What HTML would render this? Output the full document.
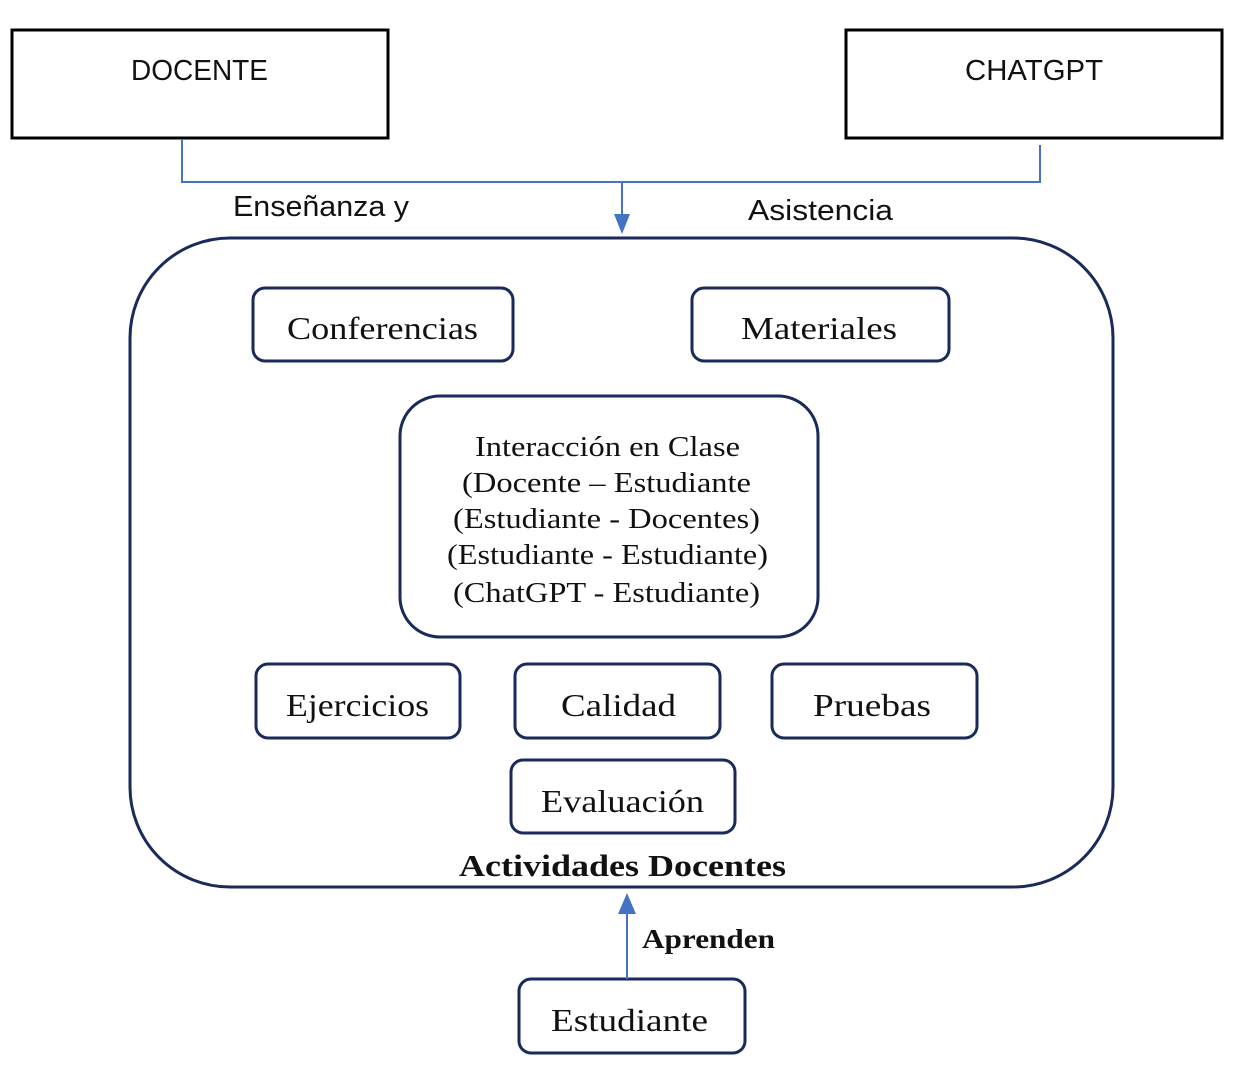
<!DOCTYPE html>
<html><head><meta charset="utf-8"><style>html,body{margin:0;padding:0;background:#fff}</style></head><body>
<svg width="1249" height="1061" viewBox="0 0 1249 1061" xmlns="http://www.w3.org/2000/svg">
<rect x="0" y="0" width="1249" height="1061" fill="#fff"/>
<rect x="12" y="30" width="376" height="108" fill="#fff" stroke="#000" stroke-width="3"/>
<rect x="846" y="30" width="376" height="108" fill="#fff" stroke="#000" stroke-width="3"/>
<g font-family="Liberation Sans, sans-serif" font-size="29" fill="#111" lengthAdjust="spacingAndGlyphs">
<text x="131" y="80" textLength="137" lengthAdjust="spacingAndGlyphs">DOCENTE</text>
<text x="965" y="80" textLength="138" lengthAdjust="spacingAndGlyphs">CHATGPT</text>
<text x="233" y="216" textLength="176" lengthAdjust="spacingAndGlyphs">Enseñanza y</text>
<text x="748" y="220" textLength="145" lengthAdjust="spacingAndGlyphs">Asistencia</text>
</g>
<polyline points="182,139 182,182 1040,182 1040,145" fill="none" stroke="#4472c4" stroke-width="2"/>
<line x1="622" y1="182" x2="622" y2="216" stroke="#4472c4" stroke-width="2"/>
<polygon points="614,214 630,214 622,234" fill="#4472c4"/>
<rect x="130" y="238" width="983" height="649" rx="100" fill="none" stroke="#1a2a5a" stroke-width="3"/>
<g fill="#fff" stroke="#1a2a5a" stroke-width="3">
<rect x="253" y="288" width="260" height="73" rx="12"/>
<rect x="692" y="288" width="257" height="73" rx="12"/>
<rect x="400" y="396" width="418" height="241" rx="40"/>
<rect x="256" y="664" width="204" height="74" rx="12"/>
<rect x="515" y="664" width="205" height="74" rx="12"/>
<rect x="772" y="664" width="205" height="74" rx="12"/>
<rect x="511" y="760" width="224" height="73" rx="12"/>
<rect x="519" y="979" width="226" height="74" rx="12"/>
</g>
<g font-family="Liberation Serif, serif" font-size="32" fill="#111">
<text x="287" y="339" textLength="191" lengthAdjust="spacingAndGlyphs">Conferencias</text>
<text x="741" y="339" textLength="156" lengthAdjust="spacingAndGlyphs">Materiales</text>
<text x="286" y="716" textLength="143" lengthAdjust="spacingAndGlyphs">Ejercicios</text>
<text x="561" y="716" textLength="115" lengthAdjust="spacingAndGlyphs">Calidad</text>
<text x="813" y="716" textLength="118" lengthAdjust="spacingAndGlyphs">Pruebas</text>
<text x="541" y="812" textLength="163" lengthAdjust="spacingAndGlyphs">Evaluación</text>
<text x="551" y="1031" textLength="157" lengthAdjust="spacingAndGlyphs">Estudiante</text>
</g>
<g font-family="Liberation Serif, serif" font-size="28" fill="#111">
<text x="475" y="456" textLength="265" lengthAdjust="spacingAndGlyphs">Interacción en Clase</text>
<text x="462" y="492" textLength="289" lengthAdjust="spacingAndGlyphs">(Docente – Estudiante</text>
<text x="453" y="528" textLength="307" lengthAdjust="spacingAndGlyphs">(Estudiante - Docentes)</text>
<text x="447" y="564" textLength="321" lengthAdjust="spacingAndGlyphs">(Estudiante - Estudiante)</text>
<text x="453" y="602" textLength="307" lengthAdjust="spacingAndGlyphs">(ChatGPT - Estudiante)</text>
</g>
<text x="459" y="876" textLength="327" lengthAdjust="spacingAndGlyphs" font-family="Liberation Serif, serif" font-size="31" font-weight="bold" fill="#111">Actividades Docentes</text>
<line x1="627" y1="979" x2="627" y2="912" stroke="#4472c4" stroke-width="2"/>
<polygon points="618,914 636,914 627,893" fill="#4472c4"/>
<text x="642" y="948" textLength="133" lengthAdjust="spacingAndGlyphs" font-family="Liberation Serif, serif" font-size="27" font-weight="bold" fill="#111">Aprenden</text>
</svg>
</body></html>
